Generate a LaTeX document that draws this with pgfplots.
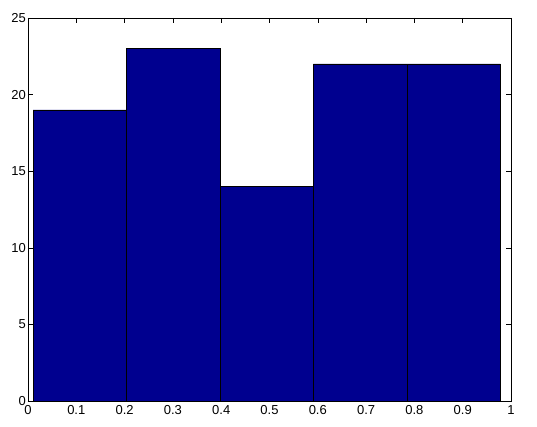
\documentclass[border=0pt]{standalone}
\usepackage{fontspec}
\setmainfont{Liberation Sans}
\usepackage{pgfplots}
\pgfplotsset{compat=1.18}
\definecolor{matnavy}{RGB}{0,0,143}

\begin{document}
\begin{tikzpicture}
\begin{axis}[
  name=ax,
  scale only axis,
  width=483pt, height=383pt,
  xmin=0, xmax=1, ymin=0, ymax=25,
  xtick={0,0.1,...,1.01},
  ytick={0,5,...,25},
  xticklabels={0,0.1,0.2,0.3,0.4,0.5,0.6,0.7,0.8,0.9,1},
  tick align=inside,
  tick style={black, line width=0.5pt},
  major tick length=5pt,
  axis line style={black, line width=0.6pt},
  /pgf/number format/assume math mode=true,
  tick label style={font=\fontsize{13}{15}\selectfont, inner sep=1pt},
  xticklabel style={yshift=-3pt},
  yticklabel style={xshift=-1pt},
]
\addplot[ybar, bar width=0.1935, bar shift=0pt, fill=matnavy, draw=black, line width=0.6pt]
  coordinates {(0.1072,19)(0.3007,23)(0.4942,14)(0.6877,22)(0.8812,22)};
\end{axis}
\useasboundingbox ([shift={(-28pt,-25pt)}]ax.south west) rectangle ([shift={(26pt,18pt)}]ax.north east);
\end{tikzpicture}
\end{document}
